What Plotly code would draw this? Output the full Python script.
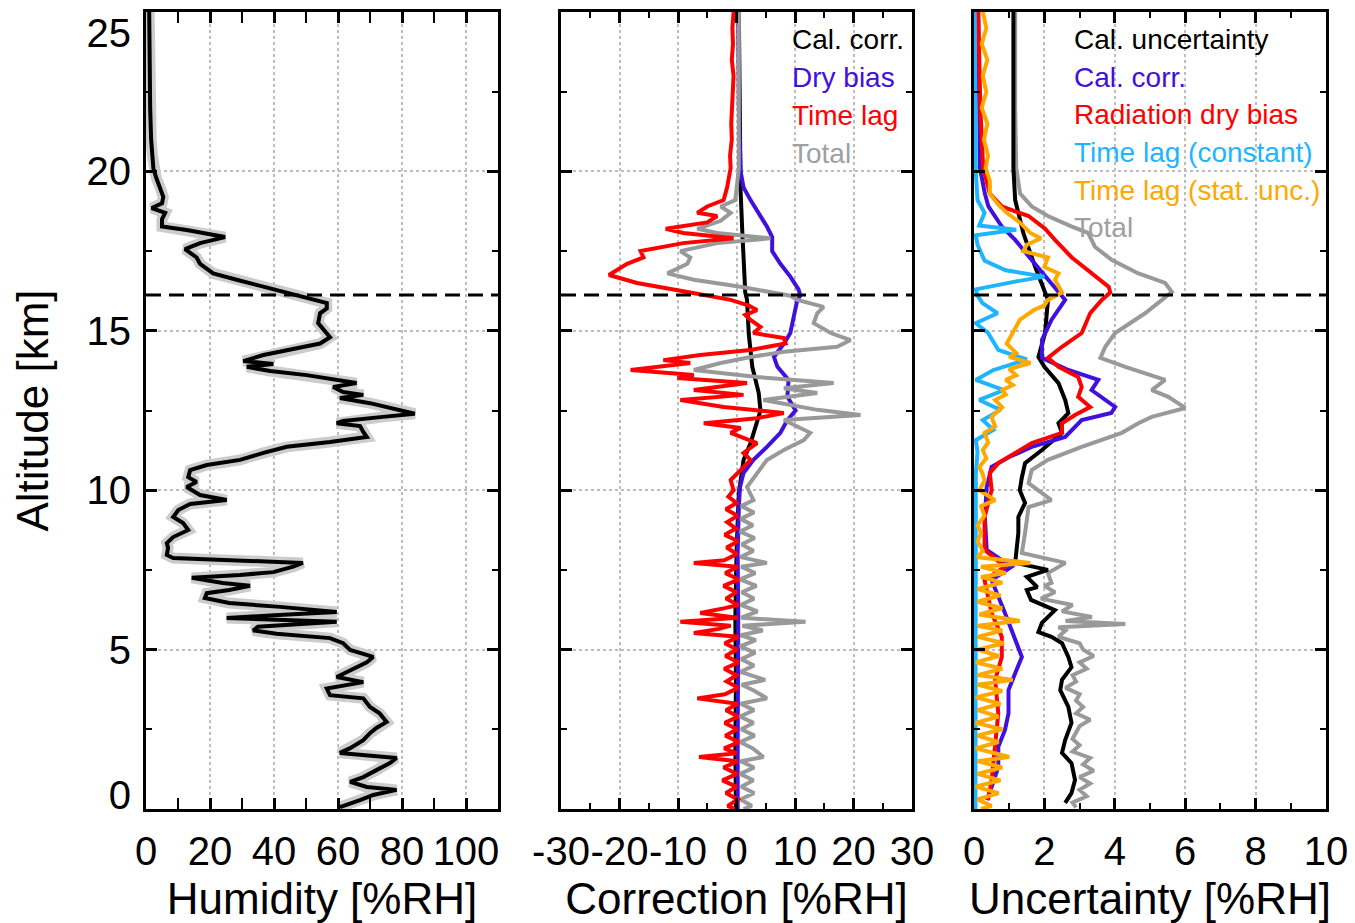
import plotly.graph_objects as go

FONT = "Liberation Sans, Arial, Helvetica, sans-serif"
# the page body adds an 8 px margin; the figure is sized and placed to compensate
OFF = 8
FW, FH = 1355 - OFF, 923 - OFF


def fx(p):
    return (p - OFF) / FW


def fy(p):
    return 1 - (p - OFF) / FH


# ---------------- Panel 1: humidity profile ----------------
hum_alt = [25.0, 24.0, 23.0, 22.0, 21.0, 20.5, 20.1, 19.8, 19.5, 19.2, 19.0, 18.85, 18.7, 18.5, 18.27,
           18.16, 17.94, 17.75, 17.56, 17.3, 17.1, 16.8, 16.6, 16.38, 16.2, 16.03, 15.87, 15.7, 15.55,
           15.24, 15.0, 14.8, 14.6, 14.4, 14.24, 14.05, 13.96, 13.87, 13.74, 13.61, 13.46, 13.36, 13.24,
           13.08, 12.99, 12.89, 12.73, 12.52, 12.4, 12.3, 12.17, 12.1, 12.01, 11.83, 11.67, 11.51, 11.36,
           11.17, 10.95, 10.79, 10.63, 10.41, 10.26, 10.1, 9.85, 9.69, 9.57, 9.38, 9.16, 8.97, 8.75, 8.53,
           8.34, 8.19, 7.97, 7.87, 7.72, 7.6, 7.43, 7.34, 7.25, 7.09, 7.0, 6.87, 6.77, 6.62, 6.46, 6.34,
           6.18, 6.08, 5.99, 5.87, 5.72, 5.6, 5.5, 5.36, 5.2, 4.99, 4.77, 4.6, 4.36, 4.14, 3.98, 3.78,
           3.57, 3.47, 3.2, 3.0, 2.73, 2.54, 2.38, 2.16, 1.91, 1.76, 1.6, 1.44, 1.22, 1.0, 0.85, 0.69,
           0.6, 0.44, 0.28, 0.06]
hum_val = [1.0, 1.0, 1.2, 1.3, 1.6, 2.0, 2.3, 3.2, 4.4, 5.4, 5.0, 1.8, 6.0, 5.0, 5.0,
           12.7, 24.7, 16.9, 12.2, 15.8, 16.9, 21.0, 28.3, 36.7, 44.0, 51.0, 56.5, 56.5, 54.4,
           53.8, 56.0, 57.5, 54.4, 45.0, 36.7, 30.4, 39.8, 31.5, 38.8, 50.2, 59.6, 65.8, 58.5,
           61.6, 67.9, 60.6, 70.0, 78.3, 84.0, 74.0, 61.6, 59.6, 66.9, 67.9, 69.0, 57.5, 44.0,
           36.7, 29.4, 19.0, 13.8, 13.2, 15.8, 12.7, 16.9, 25.2, 13.8, 10.1, 8.5, 11.6, 13.2, 8.5,
           6.5, 6.9, 6.5, 8.5, 49.0, 46.0, 39.8, 29.4, 14.3, 24.0, 32.5, 26.0, 19.0, 18.4, 26.0, 41.9,
           59.6, 40.0, 25.2, 59.6, 35.0, 33.5, 40.8, 57.5, 61.6, 63.8, 71.0, 69.0, 63.8, 59.6, 67.9, 56.5,
           57.5, 67.9, 70.0, 73.0, 75.2, 72.0, 70.0, 67.9, 63.8, 60.6, 78.3, 76.2, 72.0, 67.9, 63.8, 69.0,
           78.3, 71.0, 66.9, 60.6]

# ---------------- Panel 2: corrections ----------------
cal_corr_alt = [25, 22, 20, 19.4, 18.07, 17.0, 16.2, 15.97, 14.9, 13.87, 13.05, 12.5, 12.0, 11.48,
                10.95, 10.4, 9.9, 9.0, 8.0, 6.0, 4.0, 2.0, 0.0]
cal_corr_val = [0.4, 0.5, 0.6, 0.7, 1.0, 1.3, 1.5, 1.8, 2.1, 2.7, 3.8, 4.1, 3.2, 2.4,
                1.2, 0.7, 0.4, 0.2, 0.0, -0.2, -0.1, -0.2, -0.1]

dry_bias_alt = [25, 22, 20.0, 19.5, 19.1, 18.7, 18.27, 17.94, 17.5, 17.1, 16.7, 16.3, 16.1, 15.97, 15.43,
                14.93, 14.6, 14.18, 13.87, 13.46, 12.93, 12.5, 12.2, 11.8, 11.36, 10.95, 10.54, 10.1,
                9.5, 8.0, 6.0, 4.0, 2.0, 0.0]
dry_bias_val = [0.3, 0.4, 0.7, 1.2, 2.4, 3.8, 5.2, 6.1, 6.1, 7.5, 9.2, 10.6, 10.9, 10.4, 9.8,
                9.2, 8.1, 6.4, 7.0, 8.9, 8.7, 10.1, 8.7, 7.5, 5.2, 2.9, 1.2, 0.6,
                0.4, 0.2, 0.3, 0.2, 0.2, 0.2]

time_lag_alt = [25, 24.5, 24, 23.5, 23, 22.2, 21.5, 21, 20.5, 20.1, 19.5, 19.1, 18.9, 18.7, 18.6, 18.4,
                18.2, 18.07, 17.9, 17.75, 17.5, 17.3, 17.1, 16.75, 16.5, 16.2, 16.03, 15.97, 15.8, 15.65,
                15.5, 15.34, 15.12, 14.93, 14.77, 14.6, 14.4, 14.24, 14.08, 13.99, 13.77, 13.61, 13.52,
                13.36, 13.14, 12.99, 12.83, 12.61, 12.42, 12.26, 12.1, 11.95, 11.8, 11.48, 11.17, 10.95,
                10.63, 10.32, 10.0, 9.8, 9.6, 9.4, 9.2, 9.0, 8.8, 8.6, 8.4, 8.2, 8.0, 7.8, 7.72, 7.6,
                7.4, 7.2, 7.0, 6.8, 6.6, 6.4, 6.3, 6.15, 6.0, 5.87, 5.75, 5.65, 5.52, 5.4, 5.2, 5.0, 4.8,
                4.6, 4.4, 4.2, 4.0, 3.8, 3.6, 3.47, 3.3, 3.1, 2.9, 2.7, 2.5, 2.3, 2.1, 1.9, 1.75, 1.63,
                1.5, 1.3, 1.1, 0.9, 0.7, 0.5, 0.3, 0.1, 0.0]
time_lag_val = [-0.5, -0.7, -0.6, -0.8, -0.5, -0.7, -0.9, -0.8, -1.1, -1.0, -1.6, -2.2, -5.0, -6.7, -3.3, -5.0,
                -12.1, -9.1, -0.5, -9.1, -16.4, -15.9, -18.7, -21.8, -17.0, -7.9, -2.2, -1.0, 2.0, 3.5,
                1.5, 2.4, 4.1, 2.9, 8.1, 8.4, 2.4, -6.2, -12.5, -7.9, -18.1, -7.3, -10.1,
                1.8, -7.3, 1.2, -9.6, -2.2, 8.1, 3.5, -5.6, 0.7, -1.0, 3.5, 1.2, 2.4,
                0.7, -1.0, -0.5, -1.4, 0.0, -1.8, 0.2, -1.6, -0.1, -2.0, 0.3, -1.7, 0.1, -2.1, -7.3, 0.2,
                -1.9, 0.4, -2.2, 0.0, -1.8, 0.3, -2.0, -6.2, 0.2, -9.6, -1.0, -3.0, -7.3, 0.3, -2.0, 0.1, -1.9,
                0.4, -2.1, 0.0, -1.7, 0.3, -2.0, -6.7, 0.2, -1.8, 0.3, -2.0, 0.1, -1.9, 0.4, -2.1, 0.0, -6.4,
                0.2, -2.2, 0.1, -2.4, 0.0, -1.8, 0.2, -1.5, -0.3]

corr_total_alt = [25, 23, 22, 20.1, 19.5, 19.1, 18.9, 18.7, 18.45, 18.2, 18.07, 17.9, 17.75, 17.5, 17.3,
                  17.1, 16.8, 16.6, 16.38, 16.1, 15.97, 15.75, 15.55, 15.24, 14.93, 14.71, 14.5, 14.34,
                  14.18, 13.99, 13.77, 13.55, 13.36, 13.2, 13.05, 12.83, 12.52, 12.36, 12.2, 12.0, 11.8,
                  11.57, 11.26, 10.95, 10.54, 10.1, 9.69, 9.5, 9.3, 9.1, 8.9, 8.7, 8.5, 8.3, 8.1, 7.9,
                  7.72, 7.6, 7.4, 7.2, 7.0, 6.8, 6.6, 6.4, 6.2, 6.0, 5.87, 5.75, 5.6, 5.45, 5.3, 5.1, 4.9,
                  4.7, 4.5, 4.3, 4.05, 3.9, 3.7, 3.47, 3.3, 3.1, 2.9, 2.7, 2.5, 2.3, 2.1, 1.9, 1.63, 1.5,
                  1.3, 1.1, 0.9, 0.7, 0.5, 0.3, 0.1, 0.0]
corr_total_val = [0.4, 0.5, 0.4, 0.4, 0.1, -0.2, -2.7, -1.0, -2.7, -6.7, -3.3, 5.8, -3.3, -9.6, -7.9,
                  -8.4, -11.8, -7.3, 0.7, 9.2, 10.4, 14.9, 13.8, 13.2, 16.1, 19.5, 17.2, 8.1,
                  2.4, -2.7, -7.3, 3.5, 16.6, 8.1, 13.8, 4.6, 13.8, 21.2, 8.1, 10.4, 12.6,
                  11.5, 8.1, 5.2, 3.5, 1.8, 2.9, 0.8, 3.0, 0.7, 2.8, 0.6, 3.1, 0.9, 2.9, 0.7,
                  5.2, 0.8, 3.2, 0.6, 3.4, 0.9, 3.0, 0.7, 3.6, 0.8, 11.8, 1.0, 4.5, 0.7, 3.3, 0.6, 3.2,
                  0.8, 3.0, 0.7, 4.9, 0.9, 3.1, 5.2, 0.7, 3.0, 0.6, 2.9, 0.8, 3.1, 0.6, 2.8, 4.6, 0.7,
                  3.0, 0.6, 2.9, 0.8, 3.0, 0.7, 2.6, 1.2]

# ---------------- Panel 3: uncertainties ----------------
cal_unc_alt = [25, 22, 20.1, 19.1, 18.07, 17.0, 16.2, 15.97, 14.93, 14.18, 13.87, 13.36, 12.83, 12.42,
               12.1, 11.8, 11.26, 10.85, 10.4, 10.0, 9.6, 9.16, 8.66, 8.03, 7.72, 7.5, 7.28, 6.96,
               6.87, 6.56, 6.24, 5.84, 5.55, 5.4, 5.2, 4.77, 4.45, 4.05, 3.73, 3.2, 2.7, 2.16, 1.76,
               1.44, 0.91, 0.5, 0.19]
cal_unc_val = [1.12, 1.12, 1.12, 1.17, 1.4, 1.74, 2.02, 2.1, 2.02, 1.83, 2.0, 2.4, 2.59, 2.68,
               2.4, 2.5, 1.93, 1.45, 1.36, 1.3, 1.45, 1.26, 1.26, 1.2, 1.17, 2.1, 1.5, 1.8,
               1.5, 1.62, 2.3, 1.93, 1.83, 2.2, 2.5, 2.68, 2.77, 2.5, 2.45, 2.68, 2.77, 2.59, 2.5,
               2.77, 2.87, 2.77, 2.59]

unc_cal_corr_alt = [25, 22, 20.1, 19.3, 18.9, 18.27, 17.85, 17.22, 16.6, 16.07, 15.97, 15.34, 14.71, 14.15,
                    13.77, 13.46, 13.14, 12.61, 12.42, 12.2, 12.0, 11.67, 11.36, 11.04, 10.73, 10.1, 9.16,
                    8.13, 7.6, 7.28, 7.18, 6.15, 5.6, 5.24, 4.77, 4.26, 3.73, 3.0, 2.48, 1.95, 1.32, 0.69, 0.28]
unc_cal_corr_val = [0.12, 0.14, 0.17, 0.31, 0.41, 0.79, 1.17, 1.64, 2.1, 2.5, 2.59, 2.2, 1.93, 1.93,
                    2.68, 3.53, 3.34, 4.01, 3.9, 3.06, 2.87, 2.59, 1.64, 1.0, 0.5, 0.36, 0.31,
                    0.36, 1.07, 0.6, 0.5, 0.88, 1.07, 1.17, 1.36, 1.17, 0.98, 0.98, 0.88, 0.69, 0.69, 0.5, 0.36]

rad_bias_alt = [25, 22, 20.1, 19.3, 18.9, 18.6, 18.2, 17.85, 17.3, 16.8, 16.38, 16.2, 15.97, 15.55, 14.93,
                14.5, 14.15, 13.87, 13.55, 13.24, 12.93, 12.61, 12.36, 12.1, 11.8, 11.48, 11.17, 10.85,
                10.54, 10.0, 9.16, 8.13, 7.6, 7.18, 6.15, 5.4, 4.77, 4.05, 3.0, 1.95, 0.91, 0.28]
rad_bias_val = [0.12, 0.18, 0.26, 0.45, 0.79, 1.55, 2.02, 2.3, 2.78, 3.35, 3.83, 3.87, 3.63, 3.3, 3.06,
                2.5, 2.1, 2.4, 2.96, 3.06, 2.96, 3.3, 2.87, 2.5, 2.5, 1.64, 1.17, 0.69,
                0.45, 0.5, 0.3, 0.3, 0.88, 0.3, 0.5, 0.79, 0.79, 0.6, 0.69, 0.6, 0.5, 0.4]

lag_const_alt = [25, 22, 20, 19.1, 18.7, 18.3, 18.17, 18.0, 17.7, 17.2, 16.9, 16.7, 16.55, 16.3, 16.1,
                 15.87, 15.55, 15.24, 14.93, 14.4, 14.1, 13.77, 13.46, 13.14, 12.83, 12.52, 12.2, 11.89,
                 11.57, 11.2, 10.5, 9.0, 7.0, 5.0, 3.0, 1.0, 0.0]
lag_const_val = [0.02, 0.03, 0.05, 0.1, 0.3, 0.15, 1.2, 0.05, 0.1, 0.3, 0.9, 2.0, 1.2, 0.05, 0.1,
                 0.24, 0.67, 0.05, 0.4, 0.69, 1.5, 0.55, 0.05, 0.85, 0.15, 0.75, 0.25, 0.55,
                 0.05, 0.1, 0.05, 0.05, 0.05, 0.04, 0.04, 0.04, 0.04]

lag_stat_alt = [25, 24.5, 24, 23.5, 23, 22.5, 22, 21.5, 21, 20.5, 20.1, 19.7, 19.3, 18.95, 18.7, 18.4,
                18.07, 17.9, 17.7, 17.5, 17.3, 17.0, 16.8, 16.6, 16.2, 15.97, 15.8, 15.65, 15.34, 14.93,
                14.6, 14.3, 14.18, 13.99, 13.8, 13.6, 13.46, 13.3, 13.14, 13.0, 12.83, 12.6, 12.3, 12.0,
                11.8, 11.5, 11.26, 11.0, 10.73, 10.5, 10.3, 10.0, 9.69, 9.5, 9.2, 8.9, 8.66, 8.4, 8.1,
                7.9, 7.72, 7.6, 7.4, 7.28, 7.1, 6.9, 6.7, 6.5, 6.3, 6.1, 5.9, 5.75, 5.6, 5.4, 5.2, 5.0,
                4.8, 4.6, 4.4, 4.2, 4.05, 3.9, 3.7, 3.5, 3.3, 3.1, 2.9, 2.7, 2.5, 2.3, 2.1, 1.9, 1.63,
                1.5, 1.3, 1.1, 0.9, 0.7, 0.5, 0.3, 0.1, 0.0]
lag_stat_val = [0.25, 0.35, 0.22, 0.38, 0.25, 0.35, 0.22, 0.38, 0.28, 0.4, 0.33, 0.45, 0.45, 0.7, 0.93, 1.3,
                1.6, 1.9, 1.5, 1.4, 2.1, 2.0, 2.4, 2.3, 2.5, 2.1, 2.0, 1.7, 1.3, 1.1,
                0.93, 1.2, 1.0, 1.6, 1.0, 1.2, 0.9, 1.1, 0.8, 0.9, 0.6, 0.8, 0.5, 0.6,
                0.3, 0.4, 0.25, 0.35, 0.15, 0.25, 0.3, 0.15, 0.6, 0.2, 0.3, 0.1, 0.2, 0.1, 0.25,
                0.1, 1.6, 0.2, 0.9, 0.2, 0.8, 0.1, 0.75, 0.1, 0.8, 0.15, 1.3, 0.1, 0.8, 0.1, 0.85, 0.1,
                0.7, 0.05, 0.8, 0.1, 1.1, 0.1, 0.8, 0.05, 0.75, 0.1, 0.7, 0.05, 0.8, 0.1, 0.7, 0.05, 1.0,
                0.1, 0.8, 0.1, 0.75, 0.05, 0.7, 0.1, 0.5, 0.2]

unc_total_alt = [25, 22, 20.1, 19.3, 18.9, 18.6, 18.27, 18.07, 17.63, 17.22, 16.8, 16.5, 16.22, 16.03,
                 15.97, 15.55, 14.93, 14.5, 14.15, 13.87, 13.46, 13.14, 12.93, 12.58, 12.3, 12.1, 11.8,
                 11.36, 10.95, 10.63, 10.22, 9.69, 9.47, 8.66, 8.03, 7.72, 7.4, 7.09, 7.0, 6.8, 6.6, 6.4,
                 6.2, 6.02, 5.9, 5.8, 5.7, 5.6, 5.4, 5.2, 5.0, 4.8, 4.6, 4.4, 4.2, 4.0, 3.8, 3.6, 3.4,
                 3.2, 3.0, 2.8, 2.6, 2.4, 2.2, 2.0, 1.8, 1.6, 1.4, 1.2, 1.0, 0.8, 0.6, 0.4, 0.2, 0.05]
unc_total_val = [1.17, 1.17, 1.2, 1.31, 1.64, 2.1, 2.78, 3.24, 3.44, 3.92, 4.67, 5.43, 5.62, 5.43,
                 5.34, 4.86, 4.01, 3.73, 3.59, 4.3, 5.43, 5.05, 5.52, 6.0, 5.05, 4.67, 4.2,
                 3.06, 2.1, 1.64, 1.55, 2.2, 1.55, 1.45, 1.36, 2.6, 2.1, 2.2, 2.0, 2.3, 1.9, 2.8,
                 2.5, 3.35, 2.6, 4.3, 2.4, 2.6, 2.4, 3.0, 3.1, 3.4, 3.0, 3.2, 2.8, 2.9, 2.6, 3.0, 2.9,
                 3.1, 2.9, 3.3, 3.0, 2.9, 2.8, 3.0, 2.8, 3.3, 3.1, 3.4, 3.0, 3.3, 3.0, 3.2, 2.8, 2.9]

tropopause_km = 16.12

# tick values / labels
hum_ticks = [0, 20, 40, 60, 80, 100]
corr_ticks = [-30, -20, -10, 0, 10, 20, 30]
unc_ticks = [0, 2, 4, 6, 8, 10]
alt_ticks = [0, 5, 10, 15, 20, 25]
alt_tick_text = ["0", "5", "10", "15", "20", "25"]
alt_label_pos = [0.44, 5, 10, 15, 20, 24.35]  # end labels sit just inside the frame, as in the original

BLACK = "#000000"
BLUE = "#4010dc"
RED = "#ff0000"
GRAY = "#999999"
CYAN = "#1eb4ff"
ORANGE = "#ffa800"

LW = 4

fig = go.Figure()

# Panel 1
fig.add_trace(go.Scatter(x=hum_val, y=hum_alt, mode="lines", line=dict(color="#cccccc", width=11),
                         xaxis="x", yaxis="y", showlegend=False, hoverinfo="skip"))
fig.add_trace(go.Scatter(x=hum_val, y=hum_alt, mode="lines", line=dict(color=BLACK, width=LW),
                         xaxis="x", yaxis="y", name="Humidity", showlegend=False))
# carrier for the altitude tick-label axis (invisible)
fig.add_trace(go.Scatter(x=hum_val, y=hum_alt, mode="lines", line=dict(color="rgba(0,0,0,0)", width=1),
                         xaxis="x", yaxis="y4", showlegend=False, hoverinfo="skip"))

# Panel 2
for vals, alts, col, nm in [(cal_corr_val, cal_corr_alt, BLACK, "Cal. corr."),
                            (dry_bias_val, dry_bias_alt, BLUE, "Dry bias"),
                            (corr_total_val, corr_total_alt, GRAY, "Total"),
                            (time_lag_val, time_lag_alt, RED, "Time lag")]:
    fig.add_trace(go.Scatter(x=vals, y=alts, mode="lines", line=dict(color=col, width=LW),
                             xaxis="x2", yaxis="y2", name=nm, showlegend=False))

# Panel 3
for vals, alts, col, nm in [(unc_total_val, unc_total_alt, GRAY, "Total"),
                            (cal_unc_val, cal_unc_alt, BLACK, "Cal. uncertainty"),
                            (unc_cal_corr_val, unc_cal_corr_alt, BLUE, "Cal. corr."),
                            (rad_bias_val, rad_bias_alt, RED, "Radiation dry bias"),
                            (lag_const_val, lag_const_alt, CYAN, "Time lag (constant)"),
                            (lag_stat_val, lag_stat_alt, ORANGE, "Time lag (stat. unc.)")]:
    fig.add_trace(go.Scatter(x=vals, y=alts, mode="lines", line=dict(color=col, width=LW),
                             xaxis="x3", yaxis="y3", name=nm, showlegend=False))

tickfont = dict(family=FONT, size=40, color="black")
titlefont = dict(family=FONT, size=44, color="black")


def xax(dom, rng, ticks, minor_dt, title, anchor):
    return dict(domain=dom, range=rng, tickmode="array", tickvals=ticks,
                ticktext=[str(t) for t in ticks], tickangle=0,
                showline=True, linewidth=3, linecolor="black", mirror="allticks",
                ticks="inside", ticklen=11, tickwidth=2.5, tickcolor="black",
                minor=dict(ticks="inside", ticklen=6, tickwidth=2, tickcolor="black", dtick=minor_dt,
                           showgrid=False),
                showgrid=True, gridcolor="#bdbdbd", griddash="dot", gridwidth=2, zeroline=False,
                tickfont=tickfont, ticklabelstandoff=5, ticklabeloverflow="allow", automargin=False,
                title=dict(text=title, font=titlefont, standoff=15), anchor=anchor, fixedrange=True)


def yax(dom, anchor):
    return dict(domain=dom, range=[0, 25], tickmode="array", tickvals=alt_ticks,
                ticktext=alt_tick_text, showticklabels=False,
                showline=True, linewidth=3, linecolor="black", mirror="allticks",
                ticks="inside", ticklen=11, tickwidth=2.5, tickcolor="black",
                minor=dict(ticks="inside", ticklen=6, tickwidth=2, tickcolor="black", dtick=2.5,
                           showgrid=False),
                showgrid=True, gridcolor="#bdbdbd", griddash="dot", gridwidth=2, zeroline=False,
                automargin=False, anchor=anchor, fixedrange=True)


ydom = [fy(809), fy(12)]
fig.update_layout(
    width=FW, height=FH, margin=dict(l=0, r=0, t=0, b=0),
    paper_bgcolor="white", plot_bgcolor="white", showlegend=False,
    font=dict(family=FONT, color="black"),
    xaxis=xax([fx(146), fx(498)], [0, 110], hum_ticks, 10, "Humidity [%RH]", "y"),
    xaxis2=xax([fx(561), fx(912)], [-30, 30], corr_ticks, 5, "Correction [%RH]", "y2"),
    xaxis3=xax([fx(974), fx(1326)], [0, 10], unc_ticks, 1, "Uncertainty [%RH]", "y3"),
    yaxis=yax(ydom, "x"),
    yaxis2=yax(ydom, "x2"),
    yaxis3=yax(ydom, "x3"),
    yaxis4=dict(overlaying="y", anchor="x", side="left", range=[0, 25], tickmode="array",
                tickvals=alt_label_pos, ticktext=alt_tick_text, ticks="", showline=False,
                showgrid=False, zeroline=False, tickfont=tickfont, ticklabelstandoff=14,
                ticklabeloverflow="allow", automargin=False, fixedrange=True,
                title=dict(text="Altitude [km]", font=titlefont, standoff=24)),
)

# tropopause dashed lines
for xr, yr in [("x domain", "y"), ("x2 domain", "y2"), ("x3 domain", "y3")]:
    fig.add_shape(type="line", xref=xr, yref=yr, x0=0, x1=1, y0=tropopause_km, y1=tropopause_km,
                  line=dict(color="black", width=3, dash="15px,8px"))

# in-panel labels
leg2 = [("Cal. corr.", BLACK), ("Dry bias", BLUE), ("Time lag", RED), ("Total", "#a0a0a0")]
leg3 = [("Cal. uncertainty", BLACK), ("Cal. corr.", BLUE), ("Radiation dry bias", RED),
        ("Time lag (constant)", CYAN), ("Time lag (stat. unc.)", ORANGE), ("Total", "#a0a0a0")]
for i, (txt, col) in enumerate(leg2):
    fig.add_annotation(text=txt, x=fx(790), y=fy(40 + 37.7 * i), xref="paper", yref="paper",
                       xanchor="left", yanchor="middle", showarrow=False,
                       font=dict(family=FONT, size=28, color=col))
for i, (txt, col) in enumerate(leg3):
    fig.add_annotation(text=txt, x=fx(1072), y=fy(40 + 37.5 * i), xref="paper", yref="paper",
                       xanchor="left", yanchor="middle", showarrow=False,
                       font=dict(family=FONT, size=28, color=col))

fig.write_html("out.html")
